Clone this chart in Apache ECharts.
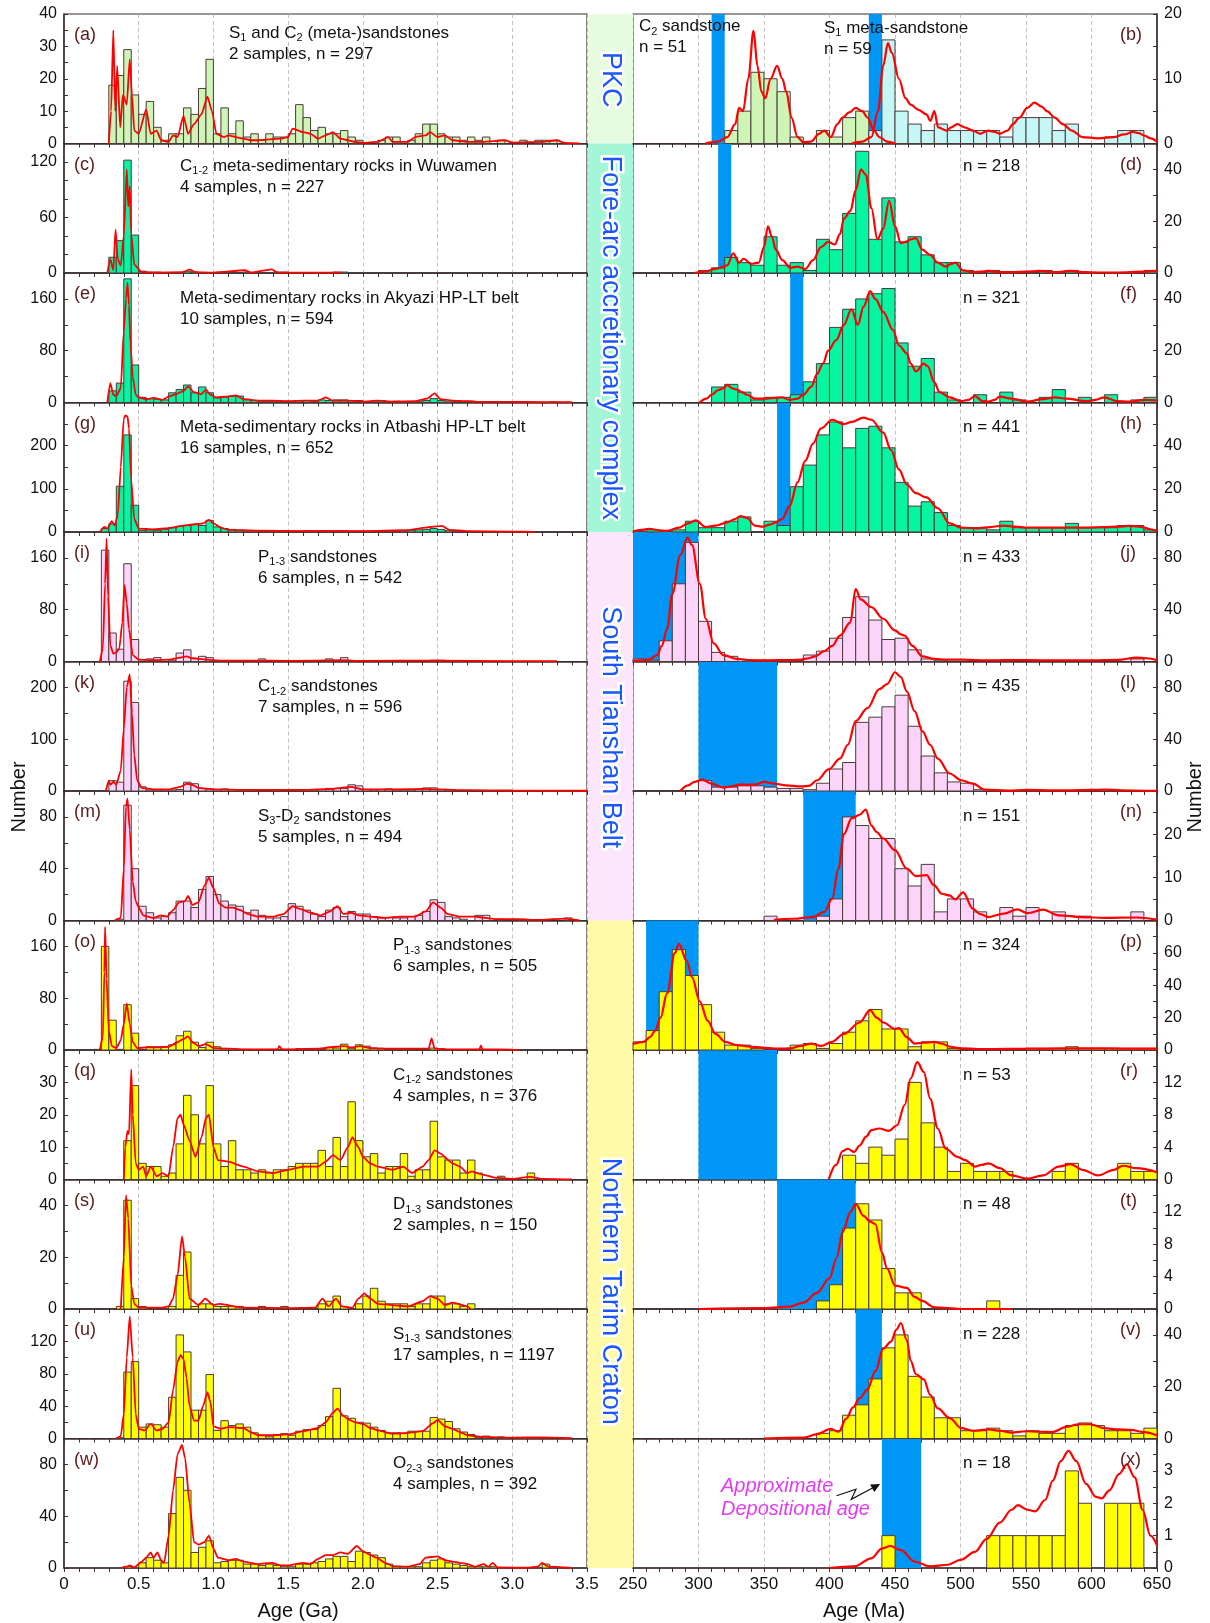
<!DOCTYPE html>
<html>
<head>
<meta charset="utf-8">
<script src="https://cdn.jsdelivr.net/npm/echarts@6/dist/echarts.min.js"></script>
<style>
  html, body { margin: 0; padding: 0; background: #ffffff; }
  #chart { width: 1210px; height: 1623px; }
</style>
</head>
<body>
<div id="chart"></div>
<script>
// ---------------- Detrital zircon U-Pb age data ----------------
// Left column: counts per 0.05 Ga bin; right column: counts per 10 Ma bin.
// KDE curves are given as [age, value] pairs on the count scale.

// (a) S1 and C2 (meta-)sandstones, bins from 0.30 Ga
const countsA = [18,21,29,15,9,13,5,1,3,3,11,9,17,26,3,11,3,7,2,3,1,3,2,2,3,12,8,4,5,3,3,4,2,1,0,0,1,2,2,0,1,3,6,6,3,2,2,1,2,1,2,0,1,0,0,1,0,1,1,1];
const kdeA = [[0.30,0],[0.315,10],[0.33,35],[0.343,10],[0.356,24],[0.376,5],[0.394,15],[0.42,12],[0.44,26],[0.455,15],[0.47,4],[0.50,3],[0.55,10.5],[0.58,3],[0.62,4],[0.65,1],[0.70,0.5],[0.73,2.5],[0.76,2],[0.80,8.5],[0.83,3],[0.87,6],[0.92,9],[0.96,14.5],[0.99,10],[1.02,3],[1.07,2],[1.1,2.5],[1.15,2],[1.2,1.5],[1.25,1],[1.3,1],[1.45,1.5],[1.5,2],[1.53,4.6],[1.6,3.5],[1.65,3],[1.7,1.5],[1.75,2.5],[1.8,3.5],[1.85,1.5],[1.9,1],[1.95,0.5],[2.0,0.2],[2.1,0.5],[2.17,2],[2.2,0.5],[2.3,0.5],[2.35,2],[2.42,2.5],[2.45,3.5],[2.5,2],[2.55,2.5],[2.6,1],[2.7,0.5],[2.8,0.5],[2.95,1],[3.0,0.3],[3.2,0.5],[3.3,1],[3.35,0.2],[3.45,0]];

// (c) C1-2 meta-sedimentary rocks in Wuwamen, bins from 0.30 Ga
const countsC = [17,35,122,41,2,1,1,0,0,0,2,1,0,0,0,0,0,0,1,0,0,0,1,1,0,0,0,0,0,0,1,1];
const kdeC = [[0.29,0],[0.31,15],[0.33,3],[0.345,47],[0.36,15],[0.38,8],[0.40,40],[0.42,112],[0.43,72],[0.44,94],[0.45,42],[0.47,9],[0.52,1],[0.6,0.5],[0.8,1],[0.84,4],[0.88,1],[1.0,0.5],[1.21,3],[1.25,0.5],[1.39,4],[1.43,0.5],[1.6,0.5],[1.86,0.5]];

// (e) Akyazi HP-LT belt, bins from 0.30 Ga
const countsE = [18,30,191,58,8,6,5,4,15,20,27,15,24,15,7,8,10,10,5,3,2,2,2,2,2,3,3,2,4,3,4,4,3,3,1,1,3,1,2,1,1,2,3,6,3,1,2,1,2,1,0,0,0,0,0,0,0,0,0,1];
const kdeE = [[0.29,0],[0.31,30],[0.33,12],[0.35,10],[0.38,22],[0.40,110],[0.415,160],[0.425,185],[0.435,150],[0.445,90],[0.46,40],[0.48,12],[0.50,8],[0.55,5],[0.60,7],[0.66,4],[0.70,9],[0.75,13],[0.80,18],[0.83,25],[0.87,16],[0.92,13],[0.95,20],[0.98,12],[1.02,8],[1.08,9],[1.15,11],[1.2,5],[1.3,3],[1.4,3],[1.5,2],[1.6,3],[1.7,3],[1.75,8],[1.8,3],[1.9,3],[2.0,1.5],[2.1,3],[2.2,1.5],[2.35,2],[2.43,6],[2.48,14],[2.52,5],[2.6,3],[2.7,2],[2.8,1],[3.0,1],[3.2,0.5],[3.4,0.5]];

// (g) Atbashi HP-LT belt, bins from 0.25 Ga
const countsG = [8,19,106,225,62,4,5,4,6,10,13,15,18,15,27,12,8,6,4,3,3,2,2,2,2,2,2,3,3,3,3,3,3,2,2,2,2,2,2,2,3,4,5,6,8,6,3,2,1,1,1,1,1,1,1,1,1];
const kdeG = [[0.24,0],[0.27,12],[0.29,8],[0.32,25],[0.34,15],[0.36,40],[0.38,150],[0.40,262],[0.41,270],[0.425,268],[0.435,240],[0.45,120],[0.47,30],[0.50,8],[0.6,6],[0.7,9],[0.8,15],[0.88,18],[0.93,20],[0.97,28],[1.0,20],[1.05,10],[1.1,5],[1.3,3],[1.6,2],[2.0,2],[2.3,4],[2.42,10],[2.46,12],[2.53,14],[2.58,5],[2.7,2],[3.0,1],[3.15,0.5]];

// (i) P1-3 sandstones (South Tianshan), bins from 0.25 Ga
const countsI = [172,44,19,151,34,0,4,6,0,2,13,18,5,8,6,1,1,1,1,0,1,4,0,0,1,1,0,0,1,0,4,1,6,1,0,1,0,0,0,0,0,0,0,0,2,2,0,1,0,0,1];
const kdeI = [[0.24,0],[0.26,20],[0.275,120],[0.285,190],[0.295,100],[0.31,25],[0.33,12],[0.35,14],[0.37,20],[0.39,60],[0.405,118],[0.42,90],[0.435,50],[0.46,10],[0.5,3],[0.6,2],[0.7,3],[0.78,6],[0.82,8],[0.86,5],[0.95,3],[1.05,1.5],[1.3,1.5],[1.5,1],[1.85,2],[2.0,1],[2.5,1.5],[3.0,0.5],[3.3,0.5]];

// (k) C1-2 sandstones (South Tianshan), bins from 0.30 Ga
const countsK = [20,17,212,171,8,2,2,2,2,3,17,14,5,4,3,4,3,2,2,1,1,1,2,1,1,2,2,2,3,5,5,5,12,10,3,2,3,4,2,2,2,3,6,6,3,2,1,1,1,1];
const kdeK = [[0.28,0],[0.30,20],[0.31,12],[0.33,18],[0.35,12],[0.38,40],[0.40,120],[0.42,200],[0.44,225],[0.455,150],[0.47,70],[0.49,20],[0.52,6],[0.6,3],[0.7,3],[0.78,8],[0.82,14],[0.85,13],[0.9,6],[1.0,3],[1.2,2],[1.4,2],[1.6,2],[1.8,4],[1.88,7],[1.92,8],[2.0,3],[2.2,3],[2.4,4],[2.5,3],[2.7,1.5],[3.0,1],[3.5,0.5]];

// (m) S3-D2 sandstones, bins from 0.35 Ga
const countsM = [1,89,40,11,6,2,3,6,15,15,10,24,34,20,15,12,11,6,8,4,2,2,3,13,11,8,5,3,8,10,3,7,5,5,3,2,0,2,2,3,4,7,16,14,3,2,1,0,4,4,0,1,0,1,1,0,0,0,0,0,2];
const kdeM = [[0.34,0],[0.38,2],[0.40,40],[0.415,88],[0.425,94],[0.44,70],[0.46,30],[0.48,15],[0.50,10],[0.53,4],[0.56,3],[0.6,2],[0.65,4],[0.69,3],[0.73,8],[0.77,14],[0.81,15],[0.83,19],[0.86,12],[0.9,14],[0.94,27],[0.97,33],[1.0,25],[1.04,13],[1.08,10],[1.13,10],[1.18,8],[1.23,5],[1.3,3],[1.4,3],[1.47,5],[1.53,11],[1.58,9],[1.65,6],[1.72,4],[1.78,7],[1.83,11],[1.87,5],[1.92,6],[1.97,4],[2.05,3],[2.15,2],[2.25,3],[2.35,3],[2.42,7],[2.47,14],[2.52,10],[2.57,5],[2.65,3],[2.75,3],[2.82,2],[2.9,1],[3.0,1],[3.2,0.5],[3.35,1.5],[3.45,0]];

// (o) P1-3 sandstones (Tarim), bins from 0.20 Ga
const countsO = [1,160,46,1,70,26,0,5,5,5,8,22,29,12,4,12,5,2,2,0,1,0,0,1,1,1,1,2,1,1,1,4,3,9,2,8,6,3,2,1,1,1,1,0,0,3,2,0,0,0,0,1];
const kdeO = [[0.24,0],[0.26,20],[0.27,120],[0.275,190],[0.285,110],[0.30,30],[0.32,6],[0.35,3],[0.38,15],[0.40,40],[0.42,72],[0.44,40],[0.46,12],[0.49,3],[0.55,4],[0.62,4],[0.7,5],[0.76,12],[0.8,17],[0.83,21],[0.86,12],[0.9,6],[0.95,9],[1.0,3],[1.2,1],[1.43,1],[1.44,6],[1.46,1],[1.7,2],[1.82,5],[1.88,6],[1.92,4],[1.98,6],[2.05,3],[2.2,2],[2.44,2],[2.46,18],[2.48,2],[2.6,1],[2.78,1],[2.79,7],[2.8,1],[3.0,0.5],[3.05,0]];

// (q) C1-2 sandstones (Tarim), bins from 0.40 Ga
const countsQ = [12,29,5,4,4,1,2,11,26,20,11,29,11,4,12,3,3,2,3,2,3,3,4,5,5,5,9,4,13,4,24,12,7,8,2,4,4,8,1,3,3,18,7,6,6,2,6,2,0,0,1,0,0,0,2];
const kdeQ = [[0.40,0],[0.41,10],[0.425,15],[0.435,14],[0.45,34],[0.46,20],[0.48,5],[0.50,3],[0.53,4],[0.55,1],[0.58,4],[0.62,1],[0.66,2],[0.70,1],[0.73,10],[0.76,19],[0.78,20],[0.80,17],[0.84,12],[0.88,7],[0.92,13],[0.95,19],[0.97,20],[1.0,10],[1.03,6],[1.1,5.5],[1.2,4],[1.3,2.5],[1.4,2],[1.5,3],[1.6,4],[1.7,4],[1.75,5.5],[1.8,7.5],[1.85,6],[1.9,10],[1.93,13],[1.97,10],[2.0,7],[2.05,5],[2.1,4],[2.2,3],[2.27,4],[2.33,2],[2.4,4],[2.44,6],[2.48,9],[2.52,8],[2.6,5],[2.65,4],[2.7,2],[2.73,2.5],[2.8,1.5],[2.9,0.5],[3.0,0.2],[3.12,0.8],[3.2,0.2],[3.4,0]];

// (s) D1-3 sandstones, bins from 0.35 Ga
const countsS = [1,42,4,1,0,0,0,1,13,22,1,2,2,1,1,1,1,0,0,1,0,0,1,0,0,0,0,2,3,5,1,0,2,5,8,3,2,2,2,1,2,2,5,5,2,2,1,2];
const kdeS = [[0.38,0],[0.40,20],[0.415,44],[0.43,35],[0.45,9],[0.47,2],[0.5,0.5],[0.65,0.5],[0.7,1],[0.73,4],[0.76,13],[0.79,28],[0.81,20],[0.84,4],[0.9,1.5],[0.945,4],[1.0,1.5],[1.04,2],[1.2,0.5],[1.5,0.3],[1.68,0.5],[1.73,4],[1.77,1],[1.82,4],[1.86,1],[1.93,0.5],[1.97,4],[2.01,6],[2.05,4],[2.1,2],[2.2,1.5],[2.3,1],[2.4,3],[2.45,5],[2.5,4],[2.55,1.5],[2.6,2.5],[2.7,1],[2.72,0]];

// (u) S1-3 sandstones, bins from 0.35 Ga
const countsU = [1,82,95,14,18,17,14,51,128,107,35,35,79,10,22,16,18,14,7,4,2,5,6,4,9,11,11,16,27,62,28,25,20,19,14,10,7,7,6,9,9,9,26,24,21,12,8,5,1,3,1,2,1,0,1,1,1,1];
const kdeU = [[0.35,0],[0.38,3],[0.40,30],[0.42,100],[0.44,151],[0.46,100],[0.48,30],[0.50,12],[0.54,10],[0.58,18],[0.62,10],[0.66,12],[0.70,20],[0.73,60],[0.76,95],[0.78,103],[0.80,98],[0.82,75],[0.84,40],[0.87,22],[0.9,22],[0.93,40],[0.96,57],[0.98,45],[1.0,15],[1.05,12],[1.1,14],[1.2,13],[1.25,8],[1.3,4],[1.4,4],[1.5,5],[1.6,9],[1.7,13],[1.75,20],[1.8,32],[1.83,37],[1.87,28],[1.9,24],[1.95,20],[2.0,18],[2.05,13],[2.1,10],[2.2,6],[2.3,7],[2.4,9],[2.47,19],[2.5,23],[2.55,15],[2.6,12],[2.65,8],[2.7,4],[2.8,2],[3.0,1],[3.2,1.5],[3.4,0.5]];

// (w) O2-3 sandstones, bins from 0.40 Ga
const countsW = [1,0,4,8,6,4,42,70,60,12,16,21,4,5,6,6,3,3,2,3,2,1,1,3,3,4,5,7,9,9,5,13,12,10,8,3,1,1,1,1,4,6,7,4,3,2,1,1,1,1,0,0,0,0,0,0,3];
const kdeW = [[0.38,0],[0.42,1],[0.44,2],[0.47,0.5],[0.52,5],[0.55,8],[0.58,12],[0.60,8],[0.625,12],[0.65,6],[0.67,4],[0.70,25],[0.73,60],[0.76,88],[0.79,95],[0.81,85],[0.84,50],[0.87,20],[0.9,18],[0.94,20],[0.97,25],[1.0,15],[1.03,8],[1.1,6],[1.15,7],[1.2,5],[1.3,3],[1.39,4],[1.45,2],[1.5,2],[1.55,3],[1.6,4],[1.65,3],[1.7,7],[1.75,10],[1.8,10],[1.85,12],[1.9,11],[1.96,17],[2.0,13],[2.05,10],[2.09,8],[2.15,4],[2.2,1.5],[2.3,1],[2.38,3],[2.42,8],[2.5,9],[2.55,6],[2.6,5],[2.65,4],[2.7,3],[2.75,1],[2.81,3],[2.84,1],[2.87,4],[2.9,0.5],[3.1,0.2],[3.17,1],[3.2,4],[3.24,1],[3.4,0]];

// (b) C2 sandstone (from 320 Ma) and S1 meta-sandstone (from 430 Ma)
const countsBC2 = [2,5,11,10,8,1,0,2,1,4,5];
const countsBS1 = [2,16,5,3,2,3,2,2,2,2,1,4,4,4,2,3,0,0,1,2,2];
const kdeBC2 = [[305,0],[315,0.3],[322,1],[328,3],[331,5.5],[334,5],[338,10],[342,17.4],[345,12],[348,8],[351,7],[355,10],[360,12],[364,10],[367,8],[371,4],[375.6,1],[380,0.2],[386,0.3],[392,1.5],[396,2],[401,1],[406,3],[410,4],[415,4.8],[420,5.5],[425,5],[429,4],[434,2],[438,1],[444,0.3],[450,0]];
const kdeBS1 = [[417,0],[425,0.3],[432,1],[437,5],[441,12],[444.6,15.5],[447.6,14],[453,10],[458,7],[462,6],[468,5.2],[474,4.5],[477,3.5],[480,5],[483,2.5],[489,2],[493,2.5],[497.6,3],[503,2.5],[509.5,2],[515,1.5],[521,2],[526,1.8],[530,1.5],[536,2],[540,3],[545,4],[551,5.5],[556.5,6.3],[562,5.7],[566,5],[572,4],[578,3],[585,2],[593,1],[605,0.8],[617,1],[625,1.4],[631.5,1.8],[636,1.6],[640.5,1.2],[645,0.8],[650,0.3]];

// (d) bins from 300 Ma
const countsD = [1,2,6,4,3,14,3,4,1,13,9,23,47,13,29,12,14,7,4,4,1,0,1,0,0,0,1,0,1,0,0,0,0,0,1];
const kdeD = [[297,0],[305,0.5],[312,1.5],[318,2.2],[322,3],[326.5,7.6],[331,4],[334.5,5.5],[340,3.5],[346,4],[350,10],[353,18],[356,14],[359,9],[364,5],[370,2],[375.6,2.5],[381.5,1.5],[387.5,5],[393.5,10],[399,12],[404,11],[408,15],[411,21],[416,24],[420,32],[424,40],[427.7,38],[432,25],[436.6,13],[441,17],[445.5,28],[450,18],[454.5,11.5],[458,12],[462,13],[466,13.5],[470.8,9],[476.8,7],[482.7,4],[488.7,2.5],[493,3.5],[496,4],[502,1],[509.5,0.3],[515,0.5],[521,0.8],[530,0.3],[539,0.3],[550,0.5],[560,0.8],[572,0.3],[584,0.8],[595,0.3],[605,0.2],[620,0.2],[640,0.5],[650,0.8]];

// (f) bins from 310 Ma
const countsF = [6,7,4,1,2,2,3,8,15,29,36,40,42,44,23,14,17,4,1,0,3,0,4,1,0,2,5,0,2,0,3,0,1,2];
const kdeF = [[301,0],[306,1.5],[310,3],[315,4.8],[319,5.5],[322,6.8],[325.6,5.5],[329.5,5],[333,4],[337,3],[343,1.5],[352,1.5],[358,1.8],[363.7,2],[369.6,1],[375.6,1.5],[380,3],[386,6],[390.5,11],[395,15],[399,20],[405,24],[411,30],[416.7,36],[421.7,30],[426,37],[431,43],[435,40],[441,35],[448.5,28],[453,22],[459,19],[462,15],[466,12],[472,15],[475,14],[479.8,8],[484,4],[491.7,2],[500.6,0.5],[506,1],[511,2.5],[517,0.5],[521.4,0.3],[526,1],[530,2.3],[539,1.5],[551,0.3],[563,1.3],[572,2],[581,1.5],[596,0.5],[603,1],[610,2],[619.6,0.5],[628.5,0.3],[640.5,1],[650,0.8]];

// (h) bins from 260 Ma
const countsH = [1,0,1,5,2,2,5,7,0,5,3,21,31,45,51,39,48,49,39,23,12,14,9,3,2,2,1,5,2,2,2,2,4,2,2,2,3,3,1];
const kdeH = [[250,0.3],[256,1],[262.5,1.5],[270,0.8],[276,0.5],[285,2],[292,4],[298,5.4],[305.6,2.3],[313,3],[322,4.5],[328,6],[332,7.4],[337,6.5],[343,3],[349,2.5],[355,3.5],[359,4.5],[363.7,6],[369.6,12],[375.6,23],[381.5,33],[387.5,41],[393.5,48],[402,52],[411,50],[417,51],[426,53],[432,52],[441,46],[447,38],[453,29],[459,22],[466,18],[474,16],[482.7,11],[491.7,4],[500.6,2],[512.5,1.7],[523,2.3],[533,3],[542,2.5],[551,2],[565,2],[581,2],[595,2],[610,2.3],[620,2.5],[628.5,2.8],[635,2.6],[640.5,2],[645,1.2],[650,0.5]];

// (j) bins from 250 Ma
const countsJ = [2,1,16,60,92,31,7,4,0,1,1,1,1,5,8,18,34,50,32,17,18,9,2,1,0,0,0,0,1,0,1,0,0,0,0,0,0,0,2];
const kdeJ = [[250,0.5],[256,0.8],[262,1.5],[268.5,5],[272,12],[276,25],[280,52],[286,82],[291.7,95.6],[295,90],[301,60],[305.6,33],[311.6,14],[319,5],[329.5,2],[340,1],[350,0.8],[360,1],[370,1],[378.6,1.5],[384,2.5],[389,4],[396,8],[402,12],[408,20],[415.8,30],[420,56],[423.8,48],[432,42],[441,33],[450,24],[454.5,21],[457.4,20],[463.4,12],[470.8,4],[480,2],[490,1.5],[502,1.5],[512,1],[520,0.8],[535,1],[550,1],[575,0.8],[600,0.8],[620,1.2],[634.5,3],[642,2.5],[650,1]];

// (l) bins from 300 Ma
const countsL = [8,3,3,4,4,3,2,2,1,6,17,22,53,57,65,74,50,27,14,7,6,1,0,0,0,1,0,0,0,0,0,1];
const kdeL = [[286,0],[292,4.4],[297,7],[302.7,8.8],[310,5.7],[319,2.6],[325,3.5],[331,5],[337,4.8],[343,5],[350,7],[357.7,5.7],[366.7,4.4],[378.6,3.6],[384.5,4],[390.5,8.3],[399.4,16.7],[408,25],[414,35.7],[420,54],[429,64],[438,78.6],[444,82.6],[450,91.7],[454.5,88],[459,77],[465,61.7],[471,46],[476.8,35.7],[482.7,25],[491.7,13.5],[500.6,8.3],[509.5,5.7],[518.5,1],[536,0.3],[551,0.8],[570,0.5],[581,0.5],[600,0.8],[610,1],[630,0.4],[650,0.2]];

// (n) bins from 350 Ma
const countsN = [1,0,0,0,1,5,24,22,19,19,12,8,13,2,5,5,2,0,3,1,3,0,2,0,1,0,0,0,2];
const kdeN = [[357.7,0.15],[372.6,0.4],[387.5,0.8],[396,2],[402,5],[406.8,12],[411,20],[417,23.7],[423,24.5],[427.7,25.7],[432,22],[436,20.5],[441,19],[450,16.3],[459,12],[466,10.3],[474,10.5],[479.8,8.2],[485.7,6.2],[491.7,5.8],[496,4.9],[502,6.5],[509.5,2.7],[515,1.5],[521.4,0.8],[533,1.6],[543.5,2.6],[551,1.7],[563,2.5],[575,1.2],[593,0.8],[610,0.6],[634.5,0.7],[650,0.2]];

// (p) bins from 250 Ma
const countsP = [5,12,36,62,46,28,11,3,3,1,0,0,3,4,1,4,11,18,25,13,13,2,5,5,1,0,0,0,0,0,1,1,1,2,1,1,1,1,1,1];
const kdeP = [[250,3.7],[258,5],[263,8],[267,12],[271,20],[276,35],[282,60],[285,65.6],[291,55],[295,45],[301,30],[307,18],[313,10],[320.5,5],[329.5,3],[340,2],[349,1.5],[360,0.8],[370,1],[378,2.5],[386,4],[393.5,2.5],[402,5],[411,10],[423,17],[431,24.6],[436,20],[441,17],[450,13],[453,13.5],[459,8],[465,4],[472,4.5],[480,5],[485.7,4],[492,2],[500.6,1],[520,0.5],[550,0.8],[580,1],[600,1],[625,0.9],[650,0.8]];

// (r) bins from 410 Ma
const countsR = [3,2,4,3,5,12,7,4,1,2,1,1,1,0,0,0,1,2,0,0,0,2,1,1];
const kdeR = [[399.4,0],[405,1.8],[410,3.5],[414,3.8],[418.8,3.4],[423,4.2],[428,5.3],[432,6.1],[438,6.3],[445.5,6],[451.5,6.7],[457.4,9.2],[462,12.5],[467,14.5],[472,13.3],[476.8,10],[482.7,6.3],[488.7,3.8],[497.6,2.8],[503.6,2.4],[511,1.6],[516,1.8],[521.4,2],[530,1.4],[539,0.5],[551,0.1],[563,0.5],[575,1.6],[584,1.9],[593,1.2],[605,0.5],[617,1.2],[624,1.7],[634.5,1.4],[650,0.9]];

// (t) bins from 390 Ma
const countsT = [1,3,10,13,11,5,2,2,0,0,0,0,0,1];
const kdeT = [[300,0],[350,0.1],[370,0.3],[380,0.8],[390.5,2],[400,3.8],[405.4,6.3],[410,9.5],[416,12],[420,13],[426,11.5],[431,10.8],[435,10.5],[440,7],[444,5],[450,2.9],[459,2.6],[465,1.5],[470.8,1],[480,0.2],[500.6,0],[539,0]];

// (v) bins from 390 Ma
const countsV = [2,3,9,13,23,35,40,24,16,8,8,3,3,4,3,1,3,2,2,5,6,5,3,3,2,4];
const kdeV = [[350,0],[380,0.3],[390.5,1.7],[401,3.7],[407,2.6],[412.8,7.7],[418,12],[423,15.6],[429,19],[435,26],[441,34.7],[447,37.4],[451,42],[454.5,44.6],[459,38],[462,30],[466,24.8],[472,22.8],[476.8,16.9],[482.7,11.6],[491.7,7.9],[500.6,4],[510,3],[521.4,3.5],[530,3],[539,2.3],[550,2.8],[560,2.6],[570,2.5],[581,4.5],[590,5.5],[599,5.5],[610,4],[620,3.5],[630,3.3],[640,2.5],[650,1.2]];

// (x) bins from 440 Ma
const countsX = [1,0,0,0,0,0,0,0,1,1,1,1,1,1,3,2,0,2,2,2];
const kdeX = [[400,0],[418.8,0.05],[432,0.3],[440,0.6],[446.4,0.68],[454.5,0.55],[465,0.2],[476.8,0.05],[490,0.1],[500,0.25],[511,0.5],[520,0.9],[530,1.4],[539,1.8],[543.7,1.94],[551,1.8],[557,1.75],[564.6,2.1],[570.5,2.7],[576.5,3.3],[582.4,3.62],[588.4,3.3],[595.8,2.6],[603.3,2.2],[607.7,2.15],[613.7,2.4],[621,2.9],[627,3.2],[633,2.8],[639,1.8],[645,1.0],[650,0.7]];

// Approximate depositional age ranges (Ma)
const bandsB = [[310,320],[430,440]];
const bandsD = [[315,325]];
const bandsF = [[370,380]];
const bandsH = [[360,370]];
const bandsJ = [[250,300]];
const bandsL = [[300,360]];
const bandsN = [[380,420]];
const bandsP = [[260,300]];
const bandsR = [[300,360]];
const bandsT = [[360,420]];
const bandsV = [[420,440]];
const bandsX = [[440,470]];

// ---------------- Styling & layout ----------------
const FONT = '"Liberation Sans", Arial, Helvetica, sans-serif';
const ROW_TOP = 14, ROW_H = 129.5;
const LX = 64, LW = 523, RX = 633, RW = 524;
const FRAME = '#3d2f2f', EDGE = '#4b3b3b', RED = '#ff0000', BLUE = '#0096f5';
const C_GREEN = '#cff5b6', C_CYAN = '#c6f7f7', C_MINT = '#05f5a2', C_PINK = '#fcd4fa', C_YELLOW = '#ffff00';
const TAG_COLOR = '#5a1a1a';

const leftPanels = [
  { tag: '(a)', title: 'S{s|1} and C{s|2} (meta-)sandstones\n2 samples, n = 297', tx: 229, ty: 19, max: 40, tick: 5, lab: 10, hist: [[0.30, countsA, C_GREEN]], kde: [kdeA] },
  { tag: '(c)', title: 'C{s|1-2} meta-sedimentary rocks in Wuwamen\n4 samples, n = 227', tx: 180, ty: 22.5, max: 140, tick: 20, lab: 60, hist: [[0.30, countsC, C_MINT]], kde: [kdeC] },
  { tag: '(e)', title: 'Meta-sedimentary rocks in Akyazi HP-LT belt\n10 samples, n = 594', tx: 180, ty: 25, max: 200, tick: 40, lab: 80, hist: [[0.30, countsE, C_MINT]], kde: [kdeE] },
  { tag: '(g)', title: 'Meta-sedimentary rocks in Atbashi HP-LT belt\n16 samples, n = 652', tx: 180, ty: 25, max: 300, tick: 50, lab: 100, hist: [[0.25, countsG, C_MINT]], kde: [kdeG] },
  { tag: '(i)', title: 'P{s|1-3} sandstones\n6 samples, n = 542', tx: 258, ty: 25, max: 200, tick: 40, lab: 80, hist: [[0.25, countsI, C_PINK]], kde: [kdeI] },
  { tag: '(k)', title: 'C{s|1-2} sandstones\n7 samples, n = 596', tx: 258, ty: 25, max: 250, tick: 50, lab: 100, hist: [[0.30, countsK, C_PINK]], kde: [kdeK] },
  { tag: '(m)', title: 'S{s|3}-D{s|2} sandstones\n5 samples, n = 494', tx: 258, ty: 25, max: 100, tick: 20, lab: 40, hist: [[0.35, countsM, C_PINK]], kde: [kdeM] },
  { tag: '(o)', title: 'P{s|1-3} sandstones\n6 samples, n = 505', tx: 393, ty: 25, max: 200, tick: 40, lab: 80, hist: [[0.20, countsO, C_YELLOW]], kde: [kdeO] },
  { tag: '(q)', title: 'C{s|1-2} sandstones\n4 samples, n = 376', tx: 393, ty: 25, max: 40, tick: 5, lab: 10, hist: [[0.40, countsQ, C_YELLOW]], kde: [kdeQ] },
  { tag: '(s)', title: 'D{s|1-3} sandstones\n2 samples, n = 150', tx: 393, ty: 25, max: 50, tick: 10, lab: 20, hist: [[0.35, countsS, C_YELLOW]], kde: [kdeS] },
  { tag: '(u)', title: 'S{s|1-3} sandstones\n17 samples, n = 1197', tx: 393, ty: 25, max: 160, tick: 20, lab: 40, hist: [[0.35, countsU, C_YELLOW]], kde: [kdeU] },
  { tag: '(w)', title: 'O{s|2-3} sandstones\n4 samples, n = 392', tx: 393, ty: 25, max: 100, tick: 20, lab: 40, hist: [[0.40, countsW, C_YELLOW]], kde: [kdeW] }
];

const rightPanels = [
  { tag: '(b)', texts: [['C{s|2} sandstone\nn = 51', 639, 12.5], ['S{s|1} meta-sandstone\nn = 59', 824, 14]], max: 20, tick: 5, lab: 10, bands: bandsB, hist: [[320, countsBC2, C_GREEN], [430, countsBS1, C_CYAN]], kde: [kdeBC2, kdeBS1] },
  { tag: '(d)', texts: [['n = 218', 963, 22.5]], max: 50, tick: 10, lab: 20, bands: bandsD, hist: [[300, countsD, C_MINT]], kde: [kdeD] },
  { tag: '(f)', texts: [['n = 321', 963, 25]], max: 50, tick: 10, lab: 20, bands: bandsF, hist: [[310, countsF, C_MINT]], kde: [kdeF] },
  { tag: '(h)', texts: [['n = 441', 963, 25]], max: 60, tick: 10, lab: 20, bands: bandsH, hist: [[260, countsH, C_MINT]], kde: [kdeH] },
  { tag: '(j)', texts: [['n = 433', 963, 25]], max: 100, tick: 20, lab: 40, bands: bandsJ, hist: [[250, countsJ, C_PINK]], kde: [kdeJ] },
  { tag: '(l)', texts: [['n = 435', 963, 25]], max: 100, tick: 20, lab: 40, bands: bandsL, hist: [[300, countsL, C_PINK]], kde: [kdeL] },
  { tag: '(n)', texts: [['n = 151', 963, 25]], max: 30, tick: 5, lab: 10, bands: bandsN, hist: [[350, countsN, C_PINK]], kde: [kdeN] },
  { tag: '(p)', texts: [['n = 324', 963, 25]], max: 80, tick: 10, lab: 20, bands: bandsP, hist: [[250, countsP, C_YELLOW]], kde: [kdeP] },
  { tag: '(r)', texts: [['n = 53', 963, 25]], max: 16, tick: 2, lab: 4, bands: bandsR, hist: [[410, countsR, C_YELLOW]], kde: [kdeR] },
  { tag: '(t)', texts: [['n = 48', 963, 25]], max: 16, tick: 2, lab: 4, bands: bandsT, hist: [[390, countsT, C_YELLOW]], kde: [kdeT] },
  { tag: '(v)', texts: [['n = 228', 963, 25]], max: 50, tick: 10, lab: 20, bands: bandsV, hist: [[390, countsV, C_YELLOW]], kde: [kdeV] },
  { tag: '(x)', texts: [['n = 18', 963, 25]], max: 4, tick: 0.5, lab: 1, bands: bandsX, hist: [[440, countsX, C_YELLOW]], kde: [kdeX] }
];

const grids = [], xAxes = [], yAxes = [], series = [], graphics = [];

const subRich = { s: { fontSize: 11, lineHeight: 12, verticalAlign: 'bottom', fontFamily: FONT, fill: '#111' } };

function isMultiple(v, step) {
  const r = v / step;
  return Math.abs(r - Math.round(r)) < 1e-6;
}

function histSeries(gi, start, width, counts, color) {
  const data = [];
  counts.forEach((c, k) => { if (c > 0) data.push([+(start + k * width).toFixed(4), c]); });
  return {
    type: 'custom', xAxisIndex: gi, yAxisIndex: gi, z: 3, silent: true, animation: false,
    data, encode: { x: 0, y: 1 },
    renderItem(params, api) {
      const x0 = api.value(0), c = api.value(1);
      const a = api.coord([x0, c]), b = api.coord([x0 + width, 0]);
      return { type: 'rect', shape: { x: a[0], y: a[1], width: b[0] - a[0], height: b[1] - a[1] },
               style: { fill: color, stroke: EDGE, lineWidth: 1 } };
    }
  };
}

function bandSeries(gi, bands, ymax) {
  return {
    type: 'custom', xAxisIndex: gi, yAxisIndex: gi, z: 1, silent: true, animation: false,
    data: bands, encode: { x: [0, 1] },
    renderItem(params, api) {
      const a = api.coord([api.value(0), ymax]), b = api.coord([api.value(1), 0]);
      return { type: 'rect', shape: { x: a[0], y: a[1], width: b[0] - a[0], height: b[1] - a[1] }, style: { fill: BLUE } };
    }
  };
}

function kdeSeries(gi, pts, width, smooth) {
  return {
    type: 'line', xAxisIndex: gi, yAxisIndex: gi, data: pts, z: 4, silent: true, animation: false,
    showSymbol: false, symbol: 'none', smooth, smoothMonotone: 'x',
    lineStyle: { color: RED, width }
  };
}

function addPanel(gi, row, side, p) {
  const top = ROW_TOP + row * ROW_H;
  const isL = side === 'L';
  const last = row === 11;
  grids.push({ left: isL ? LX : RX, top, width: isL ? LW : RW, height: ROW_H, show: true,
               borderColor: FRAME, borderWidth: 1.2, backgroundColor: 'transparent' });
  xAxes.push({
    gridIndex: gi, type: 'value', min: isL ? 0 : 250, max: isL ? 3.5 : 650, interval: isL ? 0.5 : 50,
    axisLine: { show: true, onZero: false, lineStyle: { color: FRAME, width: 1.5 } },
    axisTick: { show: true, inside: false, length: 4, lineStyle: { color: FRAME, width: 1 } },
    minorTick: { show: true, splitNumber: 5, length: 4, lineStyle: { color: FRAME, width: 1 } },
    splitLine: { show: true, lineStyle: { color: '#b3b3b3', type: [4, 3], width: 0.8 } },
    axisLabel: { show: last, margin: 8, fontSize: 17, color: '#111', fontFamily: FONT,
                 showMinLabel: true, showMaxLabel: true,
                 formatter: v => isL ? (v === 0 ? '0' : v.toFixed(1)) : String(v) }
  });
  yAxes.push({
    gridIndex: gi, type: 'value', min: 0, max: p.max, interval: p.tick, position: isL ? 'left' : 'right',
    axisLine: { show: true, onZero: false, lineStyle: { color: FRAME, width: 1.5 } },
    axisTick: { show: true, inside: true, length: 4, lineStyle: { color: FRAME, width: 1 } },
    splitLine: { show: false },
    axisLabel: { show: true, margin: 7, fontSize: 16, color: '#111', fontFamily: FONT,
                 showMinLabel: true, showMaxLabel: row === 0,
                 formatter: v => isMultiple(v, p.lab) ? String(+v.toFixed(2)) : '' }
  });
  if (p.bands) series.push(bandSeries(gi, p.bands, p.max));
  const w = isL ? 0.05 : 10;
  p.hist.forEach(h => series.push(histSeries(gi, h[0], w, h[1], h[2])));
  p.kde.forEach(k => series.push(kdeSeries(gi, k, isL ? 1.8 : 2.2, isL ? 0.2 : 0.35)));

  // panel letter
  graphics.push({ type: 'text', x: isL ? 74 : 1120, y: top + 21.5, z: 20,
    style: { text: p.tag, fill: TAG_COLOR, fontSize: 18, fontFamily: FONT, align: 'left', verticalAlign: 'middle' } });
  // panel annotations
  const texts = isL ? [[p.title, p.tx, p.ty]] : p.texts;
  texts.forEach(t => graphics.push({ type: 'text', x: t[1], y: top + t[2] - 10.5, z: 20,
    style: { text: t[0], rich: subRich, fill: '#111', fontSize: 17, fontFamily: FONT, lineHeight: 21,
             align: 'left', verticalAlign: 'top' } }));
}

leftPanels.forEach((p, i) => addPanel(i, i, 'L', p));
rightPanels.forEach((p, i) => addPanel(12 + i, i, 'R', p));

// tectonic unit strip between the two columns
const units = [
  { from: 0, to: 1, color: '#e6fbdf', name: 'PKC', shift: 1 },
  { from: 1, to: 4, color: '#a3f7d8', name: 'Fore-arc accretionary complex', shift: 0 },
  { from: 4, to: 7, color: '#fbe6fb', name: 'South Tianshan Belt', shift: 1 },
  { from: 7, to: 12, color: '#fffaa8', name: 'Northern Tarim Craton', shift: 47 }
];
units.forEach(u => {
  const y0 = ROW_TOP + u.from * ROW_H, y1 = ROW_TOP + u.to * ROW_H;
  graphics.push({ type: 'rect', z: 0, shape: { x: LX + LW, y: y0, width: RX - LX - LW, height: y1 - y0 },
                  style: { fill: u.color } });
  graphics.push({ type: 'text', z: 10, x: (LX + LW + RX) / 2, y: (y0 + y1) / 2 + u.shift, rotation: -Math.PI / 2,
    style: { text: u.name, fill: '#1a56ff', fontSize: 27, fontFamily: FONT, align: 'center', verticalAlign: 'middle',
             stroke: '#ffffff', lineWidth: 5 } });
});

// axis names
const nameStyle = { fill: '#111', fontSize: 20, fontFamily: FONT, align: 'center', verticalAlign: 'middle' };
graphics.push({ type: 'text', x: 19, y: 797, rotation: Math.PI / 2, style: Object.assign({ text: 'Number' }, nameStyle) });
graphics.push({ type: 'text', x: 1195.5, y: 797, rotation: Math.PI / 2, style: Object.assign({ text: 'Number' }, nameStyle) });
graphics.push({ type: 'text', x: 298, y: 1611, style: Object.assign({ text: 'Age (Ga)' }, nameStyle) });
graphics.push({ type: 'text', x: 864, y: 1611, style: Object.assign({ text: 'Age (Ma)' }, nameStyle) });

// depositional-age callout in panel (x)
graphics.push({ type: 'text', x: 721, y: 1474.5, z: 20,
  style: { text: 'Approximate\nDepositional age', fill: '#e23cf0', fontSize: 20, fontStyle: 'italic', fontFamily: FONT,
           lineHeight: 23, align: 'left', verticalAlign: 'top' } });
graphics.push({ type: 'polyline', z: 20, shape: { points: [[836.5, 1495.7], [856, 1489.3], [851.3, 1499.3], [873, 1487.8]] },
  style: { stroke: '#111', lineWidth: 1.2, fill: null } });
graphics.push({ type: 'polygon', z: 20, shape: { points: [[880.2, 1484], [874.3, 1491.9], [870.1, 1484.4]] },
  style: { fill: '#111' } });

const chart = echarts.init(document.getElementById('chart'), null, { renderer: 'canvas', width: 1210, height: 1623 });
chart.setOption({
  animation: false,
  backgroundColor: '#ffffff',
  textStyle: { fontFamily: FONT },
  grid: grids,
  xAxis: xAxes,
  yAxis: yAxes,
  series,
  graphic: { elements: graphics }
});
</script>
</body>
</html>
